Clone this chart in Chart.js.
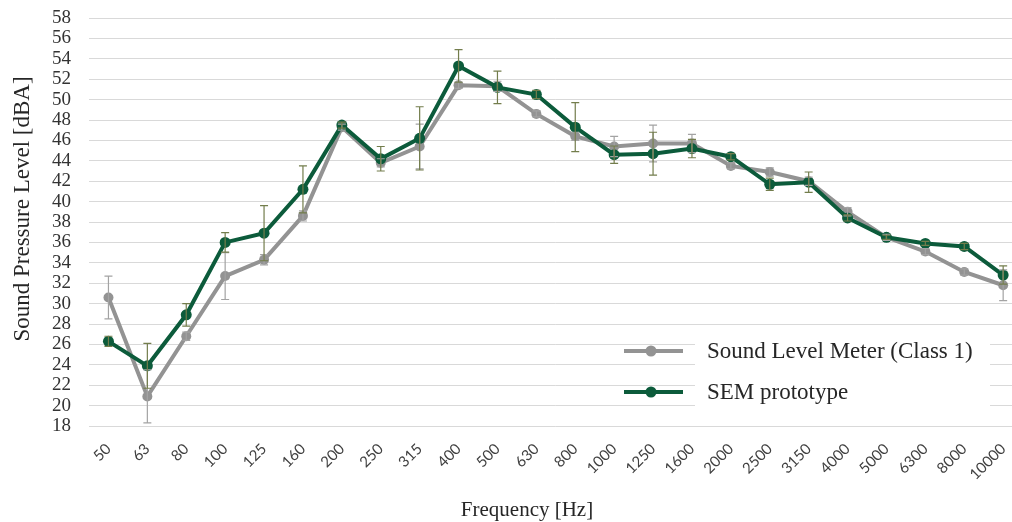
<!DOCTYPE html>
<html>
<head>
<meta charset="utf-8">
<script src="https://cdn.jsdelivr.net/npm/chart.js@4.4.1/dist/chart.umd.min.js"></script>
<style>
  html, body { margin: 0; padding: 0; background: #ffffff; overflow: hidden; }
  #wrap { position: relative; width: 1012px; height: 522px; overflow: hidden; }
  #chart { display: block; }
</style>
</head>
<body>
<div id="wrap"><canvas id="chart" width="1030" height="522"></canvas></div>
<script>
// Third-octave band centre frequencies (Hz)
const frequencies = ['50','63','80','100','125','160','200','250','315','400','500','630','800',
  '1000','1250','1600','2000','2500','3150','4000','5000','6300','8000','10000'];

// Sound Level Meter (Class 1): mean level and spread, dBA
const slmLevel = [30.6, 20.9, 26.8, 32.7, 34.3, 38.6, 47.3, 43.8, 45.4, 51.4, 51.3, 48.6,
  46.4, 45.4, 45.7, 45.7, 43.5, 42.9, 42.0, 39.0, 36.5, 35.1, 33.1, 31.8];
const slmError = [2.1, 2.6, 0.4, 2.3, 0.5, 0.5, 0.3, 0.4, 2.2, 0.3, 0.5, 0.3,
  0.4, 1.0, 1.8, 0.9, 0.3, 0.4, 0.4, 0.4, 0.3, 0.3, 0.3, 1.5];

// SEM prototype: mean level and spread, dBA
const semLevel = [26.3, 23.9, 28.9, 36.0, 36.9, 41.2, 47.5, 44.2, 46.2, 53.3, 51.2, 50.5,
  47.3, 44.6, 44.7, 45.2, 44.4, 41.7, 41.9, 38.4, 36.5, 35.9, 35.6, 32.8];
const semError = [0.5, 2.2, 1.1, 0.95, 2.7, 2.3, 0.3, 1.2, 3.1, 1.6, 1.6, 0.4,
  2.4, 0.85, 2.1, 0.9, 0.3, 0.6, 1.0, 0.3, 0.2, 0.2, 0.3, 0.9];

const seriesNames = ['Sound Level Meter (Class 1)', 'SEM prototype'];
const yTicks = { min: 18, max: 58, step: 2 };
const axisTitles = { x: 'Frequency [Hz]', y: 'Sound Pressure Level [dBA]' };

const GREY = '#939393';
const GREEN = '#0c5b3b';
const SERIF = '"Liberation Serif", "Times New Roman", serif';

// Vertical error bars with small caps, drawn over the lines
const errorBars = {
  id: 'errorBars',
  afterDatasetsDraw(chart) {
    const { ctx } = chart;
    const y = chart.scales.y;
    chart.data.datasets.forEach((ds, di) => {
      const meta = chart.getDatasetMeta(di);
      ctx.save();
      ctx.strokeStyle = ds.errorColor;
      ctx.lineWidth = 1.2;
      meta.data.forEach((pt, i) => {
        const e = ds.errors[i];
        const v = ds.data[i];
        const top = y.getPixelForValue(v + e);
        const bot = y.getPixelForValue(v - e);
        ctx.beginPath();
        ctx.moveTo(pt.x, top); ctx.lineTo(pt.x, bot);
        ctx.moveTo(pt.x - 4, top); ctx.lineTo(pt.x + 4, top);
        ctx.moveTo(pt.x - 4, bot); ctx.lineTo(pt.x + 4, bot);
        ctx.stroke();
      });
      ctx.restore();
    });
  }
};

// Legend box sitting inside the plot area, lower right
const insideLegend = {
  id: 'insideLegend',
  beforeDatasetsDraw(chart) {
    const { ctx, chartArea: a } = chart;
    const bx = a.left + 606, by = a.top + 315;
    ctx.save();
    ctx.fillStyle = '#ffffff';
    ctx.fillRect(bx, by, 295, 81);
    const rows = [
      { name: seriesNames[0], color: GREY, y: by + 18 },
      { name: seriesNames[1], color: GREEN, y: by + 59 }
    ];
    rows.forEach(r => {
      ctx.strokeStyle = r.color;
      ctx.lineWidth = 4;
      ctx.beginPath();
      ctx.moveTo(bx - 71, r.y); ctx.lineTo(bx - 12, r.y);
      ctx.stroke();
      ctx.fillStyle = r.color;
      ctx.beginPath();
      ctx.arc(bx - 44, r.y, 5.5, 0, Math.PI * 2);
      ctx.fill();
      ctx.fillStyle = '#262626';
      ctx.font = '23px ' + SERIF;
      ctx.textBaseline = 'middle';
      ctx.textAlign = 'left';
      ctx.fillText(r.name, bx + 12, r.y + 1);
    });
    ctx.restore();
  }
};

// Axis titles
const axisTitleText = {
  id: 'axisTitleText',
  afterDraw(chart) {
    const { ctx, chartArea: a } = chart;
    ctx.save();
    ctx.fillStyle = '#262626';
    ctx.textAlign = 'center';
    ctx.textBaseline = 'middle';
    ctx.font = '21px ' + SERIF;
    ctx.fillText(axisTitles.x, 527, 510);
    ctx.font = '23px ' + SERIF;
    ctx.translate(23, (a.top + a.bottom) / 2 - 13);
    ctx.rotate(-Math.PI / 2);
    ctx.fillText(axisTitles.y, 0, 0);
    ctx.restore();
  }
};

new Chart(document.getElementById('chart'), {
  type: 'line',
  data: {
    labels: frequencies,
    datasets: [
      {
        label: seriesNames[0],
        data: slmLevel,
        errors: slmError,
        errorColor: '#a3a3a3',
        borderColor: GREY,
        backgroundColor: GREY,
        pointBackgroundColor: GREY,
        pointBorderColor: GREY,
        borderWidth: 4,
        pointRadius: 5,
        pointBorderWidth: 0,
        tension: 0,
        order: 2
      },
      {
        label: seriesNames[1],
        data: semLevel,
        errors: semError,
        errorColor: '#737d4c',
        borderColor: GREEN,
        backgroundColor: GREEN,
        pointBackgroundColor: GREEN,
        pointBorderColor: GREEN,
        borderWidth: 4,
        pointRadius: 5.5,
        pointBorderWidth: 0,
        tension: 0,
        order: 1
      }
    ]
  },
  options: {
    responsive: false,
    devicePixelRatio: 1,
    animation: false,
    layout: { padding: { top: 18, left: 0, right: 0, bottom: 0 } },
    plugins: {
      legend: { display: false },
      tooltip: { enabled: false }
    },
    scales: {
      x: {
        type: 'category',
        offset: true,
        grid: { display: false, drawTicks: false },
        border: { display: false },
        ticks: {
          minRotation: 45,
          maxRotation: 45,
          padding: 14,
          autoSkip: false,
          color: '#404040',
          font: { family: 'Lato, "Open Sans", sans-serif', size: 15 }
        },
        afterFit(scale) { scale.height = 96; }
      },
      y: {
        min: yTicks.min,
        max: yTicks.max,
        grid: {
          color: '#d9d9d9',
          lineWidth: 1,
          drawTicks: true,
          tickLength: 18,
          tickColor: 'rgba(0,0,0,0)'
        },
        border: { display: false },
        ticks: {
          stepSize: yTicks.step,
          autoSkip: false,
          padding: 0,
          color: '#333333',
          font: { family: SERIF, size: 19 }
        },
        afterFit(scale) { scale.width = 89; }
      }
    }
  },
  plugins: [errorBars, insideLegend, axisTitleText]
});
</script>
</body>
</html>
